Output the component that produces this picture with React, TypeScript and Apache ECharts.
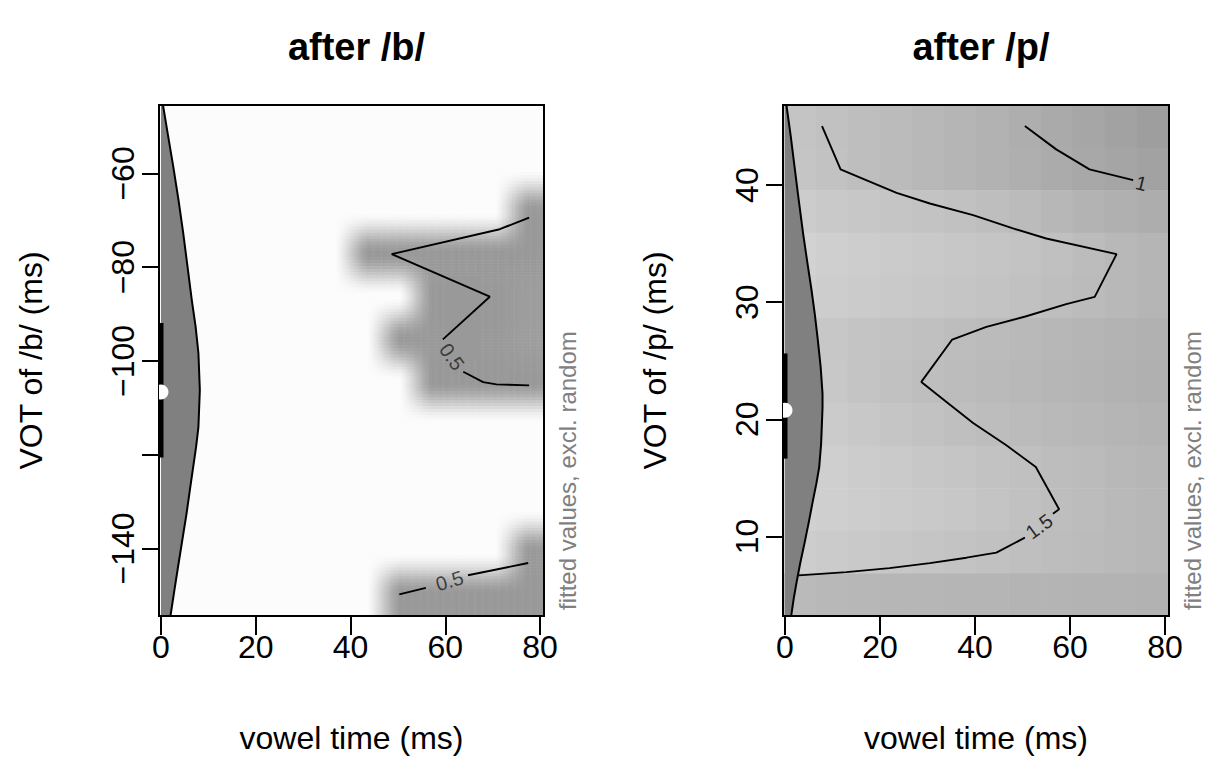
import React, { useEffect, useRef } from "react";
import * as echarts from "echarts";

const FONT = "'Liberation Sans', Arial, Helvetica, sans-serif";
const W = 1207;
const H = 767;

// ---------------- data ----------------
const xTicks = [0, 20, 40, 60, 80];
const bYTicks = [-140, -120, -100, -80, -60];
const bYLabels = [-140, -100, -80, -60];
const pYTicks = [10, 20, 30, 40];

const xLimits = [-0.42, 80.84];
const bYLimits = [-154.4, -45.4];
const pYLimits = [3.2, 46.84];

// grid cell centres of the fitted surface
const gridX = [2.97, 9.74, 16.51, 23.28, 30.06, 36.83, 43.6, 50.37, 57.15, 63.92, 70.69, 77.46];
const bGridY = [-49.94, -59.02, -68.11, -77.19, -86.27, -95.36, -104.44, -113.52, -122.61, -131.69, -140.77, -149.86];
const pGridY = [45.02, 41.39, 37.75, 34.11, 30.48, 26.84, 23.2, 19.57, 15.93, 12.29, 8.66, 5.02];

// fitted values after /b/ (rows top -> bottom)
const bFitted = [
  [0.8, 0.8, 0.8, 0.8, 0.8, 0.8, 0.8, 0.8, 0.8, 0.8, 0.8, 0.8],
  [0.8, 0.8, 0.8, 0.8, 0.8, 0.8, 0.8, 0.8, 0.8, 0.8, 0.8, 0.8],
  [0.8, 0.8, 0.8, 0.8, 0.8, 0.8, 0.8, 0.8, 0.8, 0.8, 0.8, 0.3],
  [0.8, 0.8, 0.8, 0.8, 0.8, 0.8, 0.3, 0.3, 0.3, 0.3, 0.3, 0.3],
  [0.8, 0.8, 0.8, 0.8, 0.8, 0.8, 0.8, 0.8, 0.3, 0.3, 0.3, 0.32],
  [0.8, 0.8, 0.8, 0.8, 0.8, 0.8, 0.8, 0.3, 0.3, 0.3, 0.3, 0.32],
  [0.8, 0.8, 0.8, 0.8, 0.8, 0.8, 0.8, 0.8, 0.3, 0.3, 0.3, 0.3],
  [0.8, 0.8, 0.8, 0.8, 0.8, 0.8, 0.8, 0.8, 0.8, 0.8, 0.8, 0.8],
  [0.8, 0.8, 0.8, 0.8, 0.8, 0.8, 0.8, 0.8, 0.8, 0.8, 0.8, 0.8],
  [0.8, 0.8, 0.8, 0.8, 0.8, 0.8, 0.8, 0.8, 0.8, 0.8, 0.8, 0.8],
  [0.8, 0.8, 0.8, 0.8, 0.8, 0.8, 0.8, 0.8, 0.8, 0.8, 0.8, 0.3],
  [0.8, 0.8, 0.8, 0.8, 0.8, 0.8, 0.8, 0.3, 0.3, 0.3, 0.3, 0.3],
];

// fitted values after /p/ (rows top -> bottom)
const pFitted = [
  [1.6, 1.55, 1.5, 1.45, 1.4, 1.35, 1.3, 1.23, 1.17, 1.1, 1.03, 0.97],
  [1.62, 1.57, 1.5, 1.45, 1.4, 1.35, 1.3, 1.25, 1.18, 1.13, 1.08, 1.03],
  [1.73, 1.68, 1.65, 1.62, 1.58, 1.55, 1.5, 1.45, 1.38, 1.32, 1.27, 1.22],
  [1.83, 1.78, 1.75, 1.72, 1.68, 1.65, 1.62, 1.58, 1.53, 1.47, 1.4, 1.35],
  [1.8, 1.75, 1.72, 1.68, 1.65, 1.62, 1.58, 1.55, 1.5, 1.45, 1.4, 1.35],
  [1.72, 1.65, 1.6, 1.57, 1.53, 1.48, 1.45, 1.42, 1.38, 1.35, 1.32, 1.28],
  [1.73, 1.67, 1.6, 1.55, 1.5, 1.47, 1.43, 1.4, 1.37, 1.33, 1.3, 1.27],
  [1.77, 1.72, 1.67, 1.62, 1.57, 1.52, 1.48, 1.45, 1.42, 1.38, 1.35, 1.32],
  [1.82, 1.78, 1.73, 1.7, 1.65, 1.62, 1.57, 1.53, 1.48, 1.45, 1.4, 1.37],
  [1.82, 1.78, 1.75, 1.72, 1.68, 1.65, 1.6, 1.55, 1.5, 1.47, 1.42, 1.38],
  [1.75, 1.72, 1.68, 1.65, 1.62, 1.58, 1.55, 1.52, 1.48, 1.45, 1.42, 1.38],
  [1.43, 1.4, 1.38, 1.37, 1.37, 1.35, 1.35, 1.33, 1.33, 1.32, 1.32, 1.3],
];

// density of VOT (x = density scaled to time axis, y = VOT)
const bDensity = [[0.42, -45.4], [1.5, -52.0], [2.6, -58.6], [3.7, -65.7], [4.7, -72.8], [5.6, -79.9], [6.5, -87.0], [7.3, -92.6], [7.9, -98.3], [8.2, -106.2], [7.9, -114.1], [7.4, -118.4], [6.8, -122.6], [6.1, -127.5], [5.4, -132.5], [4.5, -138.2], [3.6, -143.9], [2.8, -149.1], [2.0, -154.4]];
const pDensity = [[0.3, 46.84], [1.2, 44.2], [2.0, 41.6], [2.9, 38.7], [3.8, 35.9], [4.7, 33.4], [5.6, 31.0], [6.3, 28.9], [6.9, 26.8], [7.5, 24.5], [7.9, 22.2], [7.9, 21.0], [7.8, 19.9], [7.6, 17.9], [7.2, 15.9], [6.6, 14.5], [5.9, 13.1], [5.0, 11.2], [4.1, 9.4], [3.2, 7.7], [2.4, 6.0], [1.8, 4.6], [1.3, 3.2]];

const bSpread = [-120.6, -91.9];
const bMean = -106.6;
const pSpread = [16.64, 25.62];
const pMean = 20.77;

// contour lines
const bContour05a = [[77.7, -69.4], [71.5, -71.9], [48.7, -77.2], [69.4, -86.3], [59.5, -95.4]];
const bContour05b = [[63.8, -102.3], [68.0, -104.5], [70.8, -105.0], [77.7, -105.2]];
const bContour05c = [[50.3, -149.8], [55.9, -148.4]];
const bContour05d = [[64.8, -145.7], [77.5, -143.1]];
const pContour15a = [[7.8, 45.04], [11.7, 41.34], [15.7, 40.66], [23.5, 39.34], [30.5, 38.43], [39.6, 37.44], [48.0, 36.3], [55.0, 35.44], [69.8, 34.1], [65.2, 30.45], [59.2, 29.83], [50.8, 28.8], [42.4, 27.89], [35.2, 26.81], [28.7, 23.19], [34.0, 21.48], [39.6, 19.68], [46.6, 17.78], [52.8, 15.92], [57.7, 12.31], [56.4, 11.94]];
const pContour15b = [[50.5, 9.89], [44.5, 8.61], [38.2, 8.18], [30.5, 7.72], [22.0, 7.29], [12.9, 6.95], [2.9, 6.67]];
const pContour1 = [[50.5, 45.04], [57.1, 43.05], [64.1, 41.34], [73.3, 40.43]];

// contour labels: [x, y, text, angle]
const bLabels: [number, number, string, number][] = [[61.4, -99.1, "0.5", -55], [60.9, -146.9, "0.5", 17]];
const pLabels: [number, number, string, number][] = [[53.5, 10.85, "1.5", 36], [75.0, 40.15, "1", -14]];

// ---------------- layout ----------------
const G0 = { left: 159, top: 105, width: 385, height: 511 };
const G1 = { left: 783, top: 105, width: 386, height: 511 };

const minus = (v: number) => (v < 0 ? "\u2212" + Math.abs(v) : String(v));

function cells(xs: number[], ys: number[], vals: number[][]) {
  const out: number[][] = [];
  ys.forEach((y, r) => xs.forEach((x, c) => out.push([x, y, vals[r][c], c, r])));
  return out;
}

// crisp cells (after /p/)
const heatItem = (xs: number[], ys: number[]) => (params: any, api: any) => {
  const x = api.value(0), y = api.value(1);
  const hx = (xs[1] - xs[0]) / 2;
  const hy = Math.abs(ys[0] - ys[1]) / 2;
  const a = api.coord([x - hx, y + hy]);
  const b = api.coord([x + hx, y - hy]);
  return {
    type: "rect",
    shape: { x: a[0], y: a[1], width: b[0] - a[0] + 0.6, height: b[1] - a[1] + 0.6 },
    style: { fill: api.visual("color") },
  };
};

// interpolated cells (after /b/), as that raster is drawn interpolated
const bLo = 0.3, bHi = 0.8;
const grayOf = (v: number) => {
  const t = Math.min(1, Math.max(0, (v - bLo) / (bHi - bLo)));
  const g = Math.round(153 + (252 - 153) * t);
  return `rgb(${g},${g},${g})`;
};
const ease = (t: number, k: number) => (1 - k) * t + k * t * t * (3 - 2 * t);
function interp(vals: number[][], xs: number[], ys: number[], x: number, y: number) {
  const nx = xs.length, ny = ys.length;
  const fx = Math.min(nx - 1, Math.max(0, (x - xs[0]) / (xs[1] - xs[0])));
  const fy = Math.min(ny - 1, Math.max(0, (y - ys[0]) / (ys[1] - ys[0])));
  const i0 = Math.min(nx - 2, Math.floor(fx)), j0 = Math.min(ny - 2, Math.floor(fy));
  const tx = ease(fx - i0, 0.4), ty = ease(fy - j0, 1);
  const v00 = vals[j0][i0], v10 = vals[j0][i0 + 1], v01 = vals[j0 + 1][i0], v11 = vals[j0 + 1][i0 + 1];
  return (v00 * (1 - tx) + v10 * tx) * (1 - ty) + (v01 * (1 - tx) + v11 * tx) * ty;
}
const smoothItem = (xs: number[], ys: number[], vals: number[][]) => (params: any, api: any) => {
  const x = api.value(0), y = api.value(1), c = api.value(3), r = api.value(4);
  const hx = (xs[1] - xs[0]) / 2;
  const hy = Math.abs(ys[0] - ys[1]) / 2;
  let uniform = true;
  for (let j = Math.max(0, r - 1); j <= Math.min(ys.length - 1, r + 1); j++)
    for (let i = Math.max(0, c - 1); i <= Math.min(xs.length - 1, c + 1); i++)
      if (vals[j][i] !== vals[r][c]) uniform = false;
  const a = api.coord([x - hx, y + hy]);
  const b = api.coord([x + hx, y - hy]);
  if (uniform) {
    return { type: "rect", shape: { x: a[0], y: a[1], width: b[0] - a[0] + 0.6, height: b[1] - a[1] + 0.6 }, style: { fill: grayOf(vals[r][c]) } };
  }
  const n = 14;
  const children: any[] = [];
  for (let j = 0; j < n; j++) {
    for (let i = 0; i < n; i++) {
      const sx = x - hx + ((i + 0.5) * 2 * hx) / n;
      const sy = y + hy - ((j + 0.5) * 2 * hy) / n;
      const p0 = api.coord([x - hx + (i * 2 * hx) / n, y + hy - (j * 2 * hy) / n]);
      const p1 = api.coord([x - hx + ((i + 1) * 2 * hx) / n, y + hy - ((j + 1) * 2 * hy) / n]);
      children.push({
        type: "rect",
        shape: { x: p0[0], y: p0[1], width: p1[0] - p0[0] + 0.5, height: p1[1] - p0[1] + 0.5 },
        style: { fill: grayOf(interp(vals, xs, ys, sx, sy)) },
      });
    }
  }
  return { type: "group", children };
};

const densityItem = (curve: number[][]) => (params: any, api: any) => {
  if (params.dataIndex !== 0) return null;
  const pts = curve.map((p) => api.coord(p));
  const top = api.coord([0, curve[0][1]]);
  const bot = api.coord([0, curve[curve.length - 1][1]]);
  return {
    type: "group",
    children: [
      { type: "polygon", shape: { points: [top, ...pts, bot] }, style: { fill: "#808080" } },
      { type: "polyline", shape: { points: pts }, style: { stroke: "#000", lineWidth: 2, fill: null } },
    ],
  };
};

const dotItem = (params: any, api: any) => {
  const c = api.coord([api.value(0), api.value(1)]);
  return { type: "circle", shape: { cx: c[0], cy: c[1], r: 7.5 }, style: { fill: "#fff" } };
};

const tickStyle = { show: true, length: 19, lineStyle: { color: "#000", width: 2 } };

function mkX(gi: number) {
  return {
    gridIndex: gi,
    type: "value",
    min: xLimits[0],
    max: xLimits[1],
    axisLine: { show: false },
    splitLine: { show: false },
    axisTick: { ...tickStyle, customValues: xTicks },
    axisLabel: { customValues: xTicks, fontSize: 32, color: "#000", fontFamily: FONT, margin: 15 },
    name: "vowel time (ms)",
    nameLocation: "middle",
    nameGap: 106,
    nameTextStyle: { fontSize: 32, color: "#000", fontFamily: FONT },
  };
}

function mkY(gi: number, lim: number[], ticks: number[], labels: number[], name: string) {
  return {
    gridIndex: gi,
    type: "value",
    min: lim[0],
    max: lim[1],
    axisLine: { show: false },
    splitLine: { show: false },
    axisTick: { ...tickStyle, customValues: ticks },
    axisLabel: { customValues: labels, rotate: 90, fontSize: 32, color: "#000", fontFamily: FONT, margin: 20, formatter: minus },
    name,
    nameLocation: "middle",
    nameGap: 112,
    nameTextStyle: { fontSize: 32, color: "#000", fontFamily: FONT },
  };
}

function lineSeries(gi: number, data: number[][], width = 1.9, z = 4) {
  return {
    type: "line",
    xAxisIndex: gi,
    yAxisIndex: gi,
    data,
    symbol: "none",
    silent: true,
    z,
    lineStyle: { color: "#000", width },
  };
}

function labelSeries(gi: number, labels: [number, number, string, number][], color: string) {
  return labels.map(([x, y, t, ang]) => ({
    type: "scatter",
    xAxisIndex: gi,
    yAxisIndex: gi,
    data: [[x, y]],
    symbolSize: 0,
    silent: true,
    z: 6,
    label: { show: true, position: "inside", formatter: t, rotate: ang, fontSize: 20, color, fontFamily: FONT },
  }));
}

const option: any = {
  animation: false,
  grid: [G0, G1],
  title: [
    { text: "after /b/", left: G0.left + G0.width / 2, top: 23, textAlign: "center", textStyle: { fontSize: 38, fontWeight: "bold", color: "#000", fontFamily: FONT } },
    { text: "after /p/", left: G1.left + G1.width / 2, top: 23, textAlign: "center", textStyle: { fontSize: 38, fontWeight: "bold", color: "#000", fontFamily: FONT } },
  ],
  xAxis: [mkX(0), mkX(1)],
  yAxis: [mkY(0, bYLimits, bYTicks, bYLabels, "VOT of /b/ (ms)"), mkY(1, pYLimits, pYTicks, pYTicks, "VOT of /p/ (ms)")],
  visualMap: [
    { type: "continuous", show: false, seriesIndex: 1, dimension: 2, min: 0.9, max: 1.85, inRange: { color: ["#9a9a9a", "#d3d3d3"] } },
  ],
  series: [
    { type: "custom", xAxisIndex: 0, yAxisIndex: 0, data: cells(gridX, bGridY, bFitted), renderItem: smoothItem(gridX, bGridY, bFitted), encode: { x: 0, y: 1 }, clip: true, z: 1, silent: true },
    { type: "custom", xAxisIndex: 1, yAxisIndex: 1, data: cells(gridX, pGridY, pFitted), renderItem: heatItem(gridX, pGridY), encode: { x: 0, y: 1 }, clip: true, z: 1, silent: true },
    { type: "custom", xAxisIndex: 0, yAxisIndex: 0, data: bDensity, renderItem: densityItem(bDensity), encode: { x: 0, y: 1 }, clip: true, z: 2, silent: true },
    { type: "custom", xAxisIndex: 1, yAxisIndex: 1, data: pDensity, renderItem: densityItem(pDensity), encode: { x: 0, y: 1 }, clip: true, z: 2, silent: true },
    lineSeries(0, [[0, bSpread[0]], [0, bSpread[1]]], 5, 8),
    lineSeries(1, [[0, pSpread[0]], [0, pSpread[1]]], 5, 8),
    { type: "custom", xAxisIndex: 0, yAxisIndex: 0, data: [[0, bMean]], renderItem: dotItem, clip: true, z: 10, silent: true },
    { type: "custom", xAxisIndex: 1, yAxisIndex: 1, data: [[0, pMean]], renderItem: dotItem, clip: true, z: 10, silent: true },
    lineSeries(0, bContour05a),
    lineSeries(0, bContour05b),
    lineSeries(0, bContour05c),
    lineSeries(0, bContour05d),
    lineSeries(1, pContour15a),
    lineSeries(1, pContour15b),
    lineSeries(1, pContour1),
    ...labelSeries(0, bLabels, "#222"),
    ...labelSeries(1, pLabels, "#000"),
  ],
  graphic: [
    { type: "rect", z: 5, silent: true, shape: { x: G0.left, y: G0.top, width: G0.width, height: G0.height }, style: { fill: "none", stroke: "#000", lineWidth: 2 } },
    { type: "rect", z: 5, silent: true, shape: { x: G1.left, y: G1.top, width: G1.width, height: G1.height }, style: { fill: "none", stroke: "#000", lineWidth: 2 } },
    { type: "text", x: G0.left + G0.width + 23, y: G0.top + G0.height - 6, rotation: Math.PI / 2, silent: true, style: { text: "fitted values, excl. random", fontSize: 24, fill: "#808080", fontFamily: FONT, align: "left", verticalAlign: "middle" } },
    { type: "text", x: G1.left + G1.width + 23, y: G1.top + G1.height - 6, rotation: Math.PI / 2, silent: true, style: { text: "fitted values, excl. random", fontSize: 24, fill: "#808080", fontFamily: FONT, align: "left", verticalAlign: "middle" } },
  ],
};

export default function App() {
  const ref = useRef<HTMLDivElement>(null);
  useEffect(() => {
    const chart = echarts.init(ref.current!, null, { renderer: "svg" });
    chart.setOption(option);
    return () => chart.dispose();
  }, []);
  return (
    <div style={{ position: "fixed", left: 0, top: 0, width: W, height: H, background: "#fff", overflow: "hidden" }}>
      <div ref={ref} style={{ position: "absolute", left: 0, top: 0, width: W, height: H }} />
    </div>
  );
}
